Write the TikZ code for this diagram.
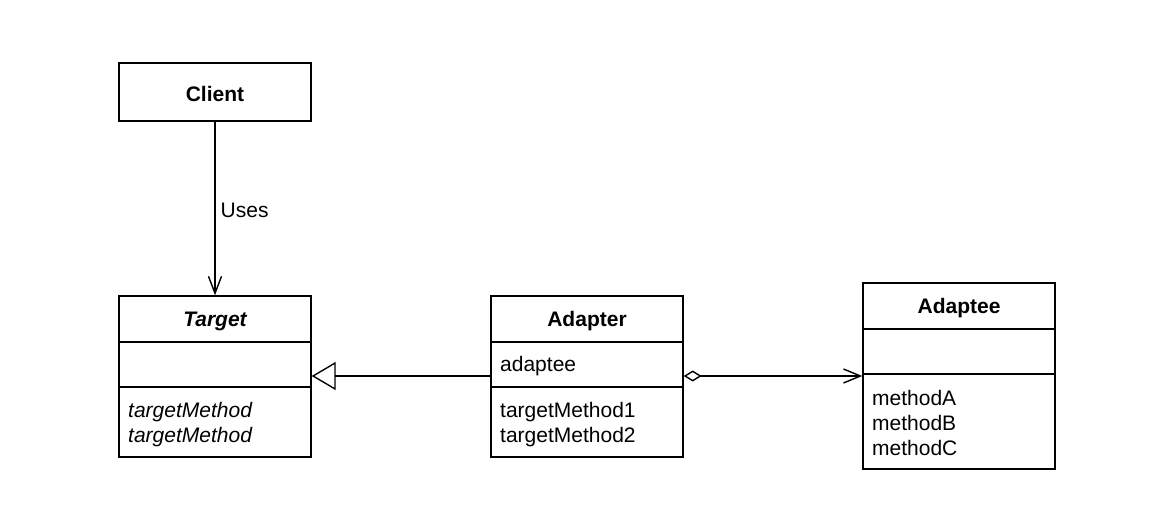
\documentclass[tikz,border=0pt]{standalone}
\usepackage{fontspec}
\setmainfont{Liberation Sans}
\usetikzlibrary{arrows.meta}
\begin{document}
\begin{tikzpicture}[x=1pt,y=-1pt,
  box/.style={draw,line width=1.4pt,inner sep=0pt},
  txt/.style={font=\fontsize{21}{25}\selectfont,inner sep=0pt},
  hdr/.style={font=\fontsize{21}{25}\selectfont\bfseries,inner sep=0pt},
  lft/.style={txt,anchor=west,align=left},
  conn/.style={line width=1.4pt},
  div/.style={line width=1.4pt}]
\useasboundingbox (0,0) rectangle (1174,526);
% Client
\node[box,minimum width=192pt,minimum height=58pt] (client) at (215,92) {};
\node[hdr] (clientT) at (215,94) {Client};
% Target
\node[box,minimum width=192pt,minimum height=161pt] (target) at (215,376.5) {};
\draw[div] (119,342) -- (311,342);
\draw[div] (119,387) -- (311,387);
\node[hdr] (targetT) at (215,321) {\itshape Target};
\node[lft] (targetM) at (128,425) {\itshape targetMethod\\\itshape targetMethod};
% Adapter
\node[box,minimum width=192pt,minimum height=161pt] (adapter) at (587,376.5) {};
\draw[div] (491,342) -- (683,342);
\draw[div] (491,387) -- (683,387);
\node[hdr] (adapterT) at (587,321) {Adapter};
\node[lft] (adapterA) at (500,366.5) {adaptee};
\node[lft] (adapterM) at (500,425) {targetMethod1\\targetMethod2};
% Adaptee
\node[box,minimum width=192pt,minimum height=186pt] (adaptee) at (959,376) {};
\draw[div] (863,329) -- (1055,329);
\draw[div] (863,374) -- (1055,374);
\node[hdr] (adapteeT) at (959,308) {Adaptee};
\node[lft] (adapteeM) at (872,423) {methodA\\methodB\\methodC};
% connectors
\draw[conn,-{Straight Barb[length=17pt,width=13pt,line width=1.4pt]}] (client.south) -- (target.north)
  node[pos=0.5,anchor=west,txt,fill=white,fill opacity=0.5,text opacity=1,inner xsep=5pt,inner ysep=3pt,yshift=-1.5pt] (uses) {Uses};
\draw[conn,-{Triangle[open,length=24pt,width=28pt,line width=1.4pt]}] (adapter.west |- 0,376) -- (target.east |- 0,376);
\draw[conn,{Diamond[open,length=18pt,width=11pt,line width=1.4pt]}-{Straight Barb[length=17pt,width=14pt,line width=1.4pt]}] (adapter.east |- 0,376) -- (adaptee.west |- 0,376);
\end{tikzpicture}
\end{document}
